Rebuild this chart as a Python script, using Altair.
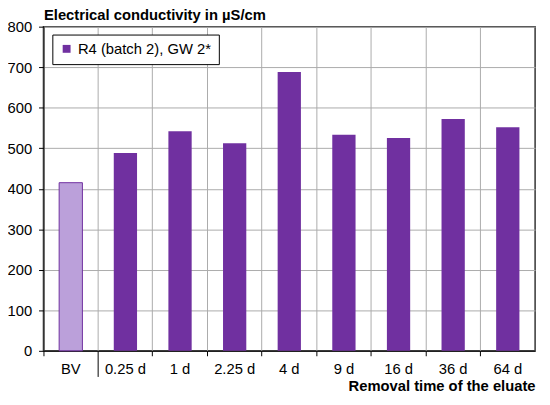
import altair as alt
import pandas as pd

categories = ["BV", "0.25 d", "1 d", "2.25 d", "4 d", "9 d", "16 d", "36 d", "64 d"]
values = [415, 488, 542, 512, 688, 533, 525, 572, 552]
series_name = "R4 (batch 2), GW 2*"
y_ticks = [0, 100, 200, 300, 400, 500, 600, 700, 800]

df = pd.DataFrame({"cat": categories, "value": values})
df["series"] = series_name
df_bv = df[df["cat"] == "BV"]
df_main = df[df["cat"] != "BV"]

FONT = "Liberation Sans"
PURPLE = "#7030A0"
SEP_TEST = "datum.value === '0.25 d'"

x_enc = alt.X(
    "cat:N",
    sort=categories,
    scale=alt.Scale(domain=categories, paddingInner=0, paddingOuter=0),
    axis=alt.Axis(
        title="Removal time of the eluate",
        titleFont=FONT,
        titleFontSize=15,
        titleFontWeight="bold",
        titleColor="black",
        titleAnchor="end",
        titleAlign="right",
        titleBaseline="alphabetic",
        titleX=499,
        titleY=40,
        labelFont=FONT,
        labelFontSize=15,
        labelColor="black",
        labelAngle=0,
        labelPadding={"condition": {"test": SEP_TEST, "value": -15}, "value": 6},
        labelBaseline="top",
        bandPosition=0,
        grid=True,
        gridColor="#ABABAB",
        gridWidth=1,
        domainColor="black",
        tickColor="black",
        tickSize={"condition": {"test": SEP_TEST, "value": 26}, "value": 5},
    ),
)

y_enc = alt.Y(
    "value:Q",
    scale=alt.Scale(domain=[0, 800], nice=False),
    axis=alt.Axis(
        values=y_ticks,
        title="Electrical conductivity in µS/cm",
        titleFont=FONT,
        titleFontSize=15,
        titleFontWeight="bold",
        titleColor="black",
        titleAngle=0,
        titleAlign="left",
        titleBaseline="alphabetic",
        titleX=0,
        titleY=-7,
        labelFont=FONT,
        labelFontSize=15,
        labelColor="black",
        labelPadding=7,
        tickSize=5,
        tickColor="black",
        domainColor="black",
        gridColor="#ABABAB",
        gridWidth=1,
    ),
)

bars = alt.Chart(df_main).mark_bar(width=alt.RelativeBandSize(0.426)).encode(
    x=x_enc,
    y=y_enc,
    color=alt.Color(
        "series:N",
        scale=alt.Scale(domain=[series_name], range=[PURPLE]),
        legend=alt.Legend(
            title=None,
            orient="none",
            legendX=9,
            legendY=8,
            symbolType="square",
            symbolSize=64,
            symbolStrokeWidth=0,
            labelFont=FONT,
            labelFontSize=15,
            labelColor="black",
            labelOffset=4,
            padding=7,
            strokeColor="black",
            fillColor="white",
        ),
    ),
)

bv = alt.Chart(df_bv).mark_bar(
    width=alt.RelativeBandSize(0.426), fill="#BBA0DA", stroke=PURPLE, strokeWidth=1
).encode(x=x_enc, y=y_enc)

chart = alt.layer(bars, bv).properties(
    width=499,
    height=329,
    autosize=alt.AutoSizeParams(type="none"),
    padding={"left": 36, "top": 16, "right": 7, "bottom": 50},
    background="white",
).configure_view(stroke="#333333", strokeWidth=1.5)

chart.save("out.html", embed_options={"renderer": "svg", "actions": False})
